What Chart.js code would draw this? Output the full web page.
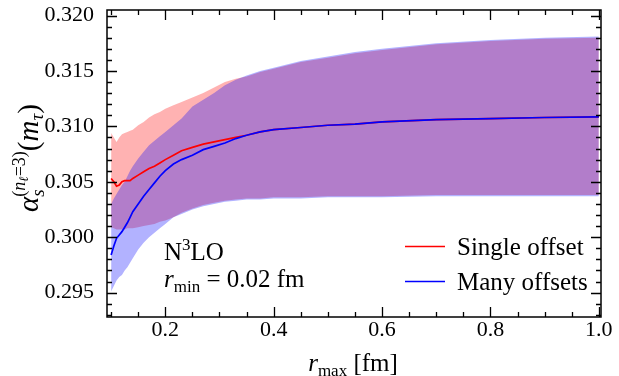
<!DOCTYPE html>
<html lang="en">
<head>
<meta charset="UTF-8">
<title>alpha_s(m_tau) vs r_max</title>
<script src="https://cdn.jsdelivr.net/npm/chart.js@4.4.1/dist/chart.umd.min.js"></script>
<style>
    html, body { margin: 0; padding: 0; background: #fff; }
    #wrap { width: 619px; height: 376px; }
</style>
</head>
<body>
<div id="wrap"><canvas id="alphaChart" width="619" height="376"></canvas></div>
<script>
// r_max grid [fm]
const rMax = [0.100, 0.105, 0.110, 0.115, 0.120, 0.125, 0.130, 0.135, 0.140, 0.150,
              0.160, 0.170, 0.180, 0.190, 0.200, 0.215, 0.230, 0.250, 0.270, 0.290,
              0.310, 0.330, 0.350, 0.375, 0.400, 0.450, 0.500, 0.550, 0.600, 0.700,
              0.800, 0.900, 1.000];

// single offset: central value and band
const singleCentral = [0.3053, 0.3050, 0.3046, 0.3047, 0.3050, 0.3051, 0.3051, 0.3051, 0.3053, 0.3056,
                       0.3059, 0.3062, 0.3064, 0.3067, 0.3070, 0.3074, 0.3078, 0.3081, 0.3084, 0.3086,
                       0.3088, 0.3090, 0.3092, 0.3095, 0.3097, 0.3099, 0.3101, 0.3102, 0.3104, 0.3106,
                       0.3107, 0.3108, 0.31085];
const singleHi = [0.3094, 0.3090, 0.3086, 0.3090, 0.3093, 0.3094, 0.3095, 0.3096, 0.3097, 0.3101,
                  0.3104, 0.3108, 0.3111, 0.3113, 0.3116, 0.3119, 0.3122, 0.3126, 0.3130, 0.3135,
                  0.3140, 0.3143, 0.3145, 0.3149, 0.3152, 0.3158, 0.3162, 0.3166, 0.3169, 0.3174,
                  0.3177, 0.3179, 0.3180];
const singleLo = [0.3009, 0.3008, 0.3007, 0.3007, 0.3007, 0.3007, 0.3008, 0.3008, 0.3008, 0.3009,
                  0.3010, 0.3011, 0.3012, 0.3014, 0.3015, 0.3018, 0.3022, 0.3026, 0.3029, 0.3031,
                  0.3033, 0.3034, 0.3035, 0.3035, 0.3036, 0.3036, 0.3037, 0.3037, 0.3037, 0.3038,
                  0.3038, 0.3038, 0.3038];

// many offsets: central value and band
const manyCentral = [0.2984, 0.2992, 0.2999, 0.3002, 0.3005, 0.3009, 0.3013, 0.3018, 0.3023, 0.3030,
                     0.3037, 0.3043, 0.3049, 0.3055, 0.3060, 0.3066, 0.3070, 0.3074, 0.3079, 0.3082,
                     0.3085, 0.3089, 0.3092, 0.3095, 0.3097, 0.3099, 0.3101, 0.3102, 0.3104, 0.3106,
                     0.3107, 0.3108, 0.31085];
const manyHi = [0.3030, 0.3035, 0.3039, 0.3043, 0.3047, 0.3050, 0.3055, 0.3060, 0.3064, 0.3071,
                0.3077, 0.3083, 0.3087, 0.3091, 0.3095, 0.3101, 0.3107, 0.3118, 0.3124, 0.3130,
                0.3137, 0.3142, 0.3146, 0.3150, 0.3153, 0.3159, 0.3163, 0.3167, 0.3170, 0.3175,
                0.3178, 0.3180, 0.3181];
const manyLo = [0.2951, 0.2956, 0.2961, 0.2964, 0.2966, 0.2970, 0.2973, 0.2977, 0.2981, 0.2989,
                0.2995, 0.3000, 0.3004, 0.3008, 0.3012, 0.3018, 0.3021, 0.3025, 0.3028, 0.3030,
                0.3032, 0.3033, 0.3034, 0.3034, 0.3035, 0.3035, 0.3036, 0.3036, 0.3036, 0.3037,
                0.3037, 0.3037, 0.3037];

const xTicks = [0.2, 0.4, 0.6, 0.8, 1.0];
const yTicks = [0.295, 0.300, 0.305, 0.310, 0.315, 0.320];

const SERIF = '"Liberation Serif", "DejaVu Serif", serif';
const font = (size, italic) => (italic ? 'italic ' : '') + size + 'px ' + SERIF;

const pts = ys => rMax.map((x, i) => ({ x: x, y: ys[i] }));

const edge = (ys, order) => ({
    data: pts(ys), borderWidth: 0, pointRadius: 0, fill: false, order: order
});
const fillTo = (ys, color, order) => ({
    data: pts(ys), borderWidth: 0, pointRadius: 0, fill: '-1', backgroundColor: color, order: order
});
const curve = (ys, color, order) => ({
    data: pts(ys), borderColor: color, borderWidth: 1.7, pointRadius: 0, fill: false, order: order
});

// text made of pieces: [text, font, dy, advance?]
const drawRuns = (ctx, runs, x, y, align) => {
    let total = 0;
    runs.forEach(r => {
        ctx.font = r[1];
        if (r[3] !== false) total += ctx.measureText(r[0]).width;
    });
    let cx = align === 'center' ? x - total / 2 : x;
    runs.forEach(r => {
        ctx.font = r[1];
        ctx.fillText(r[0], cx, y + (r[2] || 0));
        if (r[3] !== false) cx += ctx.measureText(r[0]).width;
    });
};

// frame, inward ticks on all four sides, labels, legend
const decorations = {
    id: 'decorations',
    afterDraw(chart) {
        const ctx = chart.ctx;
        const a = chart.chartArea;
        const xs = chart.scales.x, ys = chart.scales.y;
        ctx.save();
        ctx.strokeStyle = '#000';
        ctx.lineWidth = 1.3;

        // x ticks every 0.05, major every 0.2
        for (let k = 2; k <= 20; k++) {
            const px = Math.round(xs.getPixelForValue(k * 0.05)) + 0.5;
            const len = (k % 4 === 0) ? 10 : 5;
            ctx.beginPath();
            ctx.moveTo(px, a.bottom); ctx.lineTo(px, a.bottom - len);
            ctx.moveTo(px, a.top); ctx.lineTo(px, a.top + len);
            ctx.stroke();
        }
        // y ticks every 0.001, major every 0.005
        for (let k = 293; k <= 320; k++) {
            const py = Math.round(ys.getPixelForValue(k / 1000)) + 0.5;
            const len = (k % 5 === 0) ? 10 : 5;
            ctx.beginPath();
            ctx.moveTo(a.left, py); ctx.lineTo(a.left + len, py);
            ctx.moveTo(a.right, py); ctx.lineTo(a.right - len, py);
            ctx.stroke();
        }
        ctx.lineWidth = 1.5;
        ctx.strokeRect(a.left, a.top, a.right - a.left, a.bottom - a.top);

        ctx.fillStyle = '#000';
        ctx.textBaseline = 'alphabetic';
        ctx.textAlign = 'left';

        // axis titles
        drawRuns(ctx, [['r', font(25, true)], ['max', font(17), 5], [' [fm]', font(25)]],
            353, 371, 'center');

        ctx.save();
        ctx.translate(38, 158);
        ctx.rotate(-Math.PI / 2);
        drawRuns(ctx, [
            ['\u03b1', font(29, true)],
            ['s', font(19, true), 6, false],
            ['(', font(18), -13], ['n', font(18, true), -13], ['\u2113', font(13, true), -10],
            ['=3)', font(18), -13],
            ['(', font(29)], ['m', font(29, true)], ['\u03c4', font(19, true), 5], [')', font(29)]
        ], 0, 0, 'center');
        ctx.restore();

        // annotation
        drawRuns(ctx, [['N', font(25)], ['3', font(17), -10], ['LO', font(25)]], 164, 260);
        drawRuns(ctx, [['r', font(25, true)], ['min', font(17), 5], [' = 0.02 fm', font(25)]], 164, 287);

        // legend
        ctx.lineWidth = 1.7;
        ctx.strokeStyle = '#ff0000';
        ctx.beginPath(); ctx.moveTo(405, 246.5); ctx.lineTo(445, 246.5); ctx.stroke();
        ctx.strokeStyle = '#0000ff';
        ctx.beginPath(); ctx.moveTo(405, 281.5); ctx.lineTo(445, 281.5); ctx.stroke();
        ctx.font = font(25);
        ctx.fillText('Single offset', 457, 255);
        ctx.fillText('Many offsets', 457, 290);
        ctx.restore();
    }
};

new Chart(document.getElementById('alphaChart'), {
    type: 'line',
    data: {
        datasets: [
            edge(singleLo, 3),
            fillTo(singleHi, 'rgba(255, 0, 0, 0.3)', 3),
            edge(manyLo, 2),
            fillTo(manyHi, 'rgba(0, 0, 255, 0.3)', 2),
            curve(singleCentral, '#ff0000', 1),
            curve(manyCentral, '#0000ff', 0)
        ]
    },
    options: {
        responsive: false,
        animation: false,
        devicePixelRatio: 1,
        layout: { padding: { left: 0, right: 18, top: 10, bottom: 0 } },
        plugins: { legend: { display: false }, tooltip: { enabled: false } },
        elements: { line: { tension: 0 } },
        scales: {
            x: {
                type: 'linear',
                min: 0.0924,
                max: 1.004,
                grid: { display: false },
                border: { display: false },
                afterBuildTicks: s => { s.ticks = xTicks.map(v => ({ value: v })); },
                afterFit: s => { s.height = 59; s.paddingLeft = 0; s.paddingRight = 0; },
                ticks: {
                    color: '#000',
                    font: { family: SERIF, size: 22 },
                    padding: -8,
                    maxRotation: 0,
                    autoSkip: false,
                    callback: v => v.toFixed(1)
                }
            },
            y: {
                min: 0.2928,
                max: 0.3205,
                grid: { display: false },
                border: { display: false },
                afterBuildTicks: s => { s.ticks = yTicks.map(v => ({ value: v })); },
                afterFit: s => { s.width = 107; s.paddingTop = 0; s.paddingBottom = 0; },
                ticks: {
                    color: '#000',
                    font: { family: SERIF, size: 22 },
                    padding: 5,
                    callback: v => v.toFixed(3)
                }
            }
        }
    },
    plugins: [decorations]
});
</script>
</body>
</html>
